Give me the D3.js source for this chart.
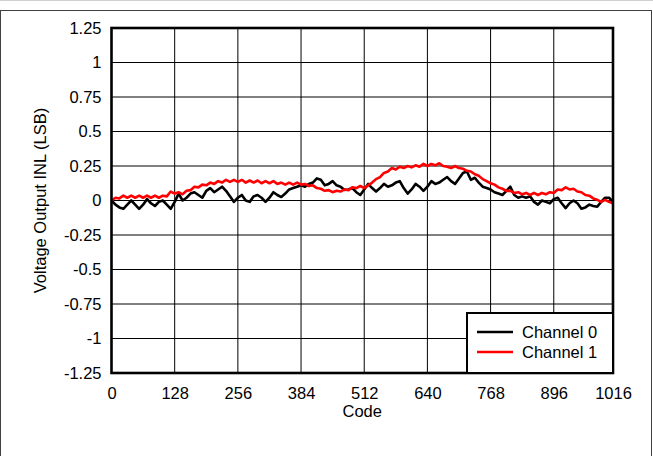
<!DOCTYPE html>
<html><head><meta charset="utf-8">
<script src="https://cdn.jsdelivr.net/npm/d3@7"></script>
<style>body{margin:0;background:#fff}svg{display:block}text{font-family:"Liberation Sans",Arial,sans-serif;}</style>
</head><body>
<svg id="c" width="653" height="456"></svg>
<script>
const seriesNames = ["Channel 0", "Channel 1"];
const seriesColors = ["#000000", "#ff0000"];
const xTicks = [0,128,256,384,512,640,768,896,1016];
const yTicks = [-1.25,-1,-0.75,-0.5,-0.25,0,0.25,0.5,0.75,1,1.25];
const yTickLabels = ["-1.25","-1","-0.75","-0.5","-0.25","0","0.25","0.5","0.75","1","1.25"];
const codes = d3.range(0, 1017, 8);
const channel0 = [
 0.00,-0.03,-0.05,-0.06,-0.03,0.00,-0.03,-0.06,-0.03,0.01,-0.02,-0.04,-0.01,0.00,-0.03,-0.06,
 -0.01,0.05,0.00,0.02,0.05,0.06,0.04,0.02,0.07,0.09,0.06,0.08,0.10,0.07,0.03,-0.01,
 0.02,0.04,0.00,-0.01,0.03,0.04,0.02,-0.01,0.02,0.06,0.04,0.025,0.05,0.08,0.09,0.10,
 0.11,0.10,0.12,0.13,0.16,0.15,0.11,0.12,0.14,0.11,0.10,0.077,0.08,0.09,0.06,0.04,
 0.08,0.12,0.09,0.065,0.09,0.12,0.10,0.11,0.13,0.14,0.09,0.05,0.08,0.12,0.10,0.07,
 0.10,0.14,0.12,0.13,0.15,0.17,0.14,0.12,0.16,0.20,0.21,0.15,0.165,0.13,0.10,0.09,
 0.08,0.06,0.05,0.04,0.07,0.10,0.04,0.02,0.03,0.02,0.03,-0.01,-0.03,0.00,-0.01,-0.02,
 0.01,0.02,-0.02,-0.055,-0.02,0.00,-0.02,-0.06,-0.05,-0.03,-0.04,-0.045,-0.01,0.02,0.02,-0.01
];
const channel1 = [
 0.00,0.02,0.015,0.035,0.02,0.035,0.02,0.035,0.02,0.035,0.02,0.035,0.02,0.035,0.03,0.065,
 0.05,0.06,0.045,0.07,0.075,0.10,0.095,0.115,0.11,0.13,0.12,0.14,0.13,0.15,0.135,0.15,
 0.135,0.15,0.13,0.145,0.13,0.145,0.125,0.14,0.125,0.14,0.12,0.13,0.115,0.13,0.115,0.13,
 0.115,0.12,0.105,0.11,0.09,0.085,0.07,0.075,0.06,0.07,0.065,0.08,0.075,0.095,0.09,0.105,
 0.09,0.11,0.13,0.155,0.17,0.2,0.21,0.235,0.225,0.245,0.235,0.25,0.24,0.255,0.245,0.265,
 0.25,0.265,0.255,0.27,0.25,0.245,0.235,0.25,0.235,0.23,0.215,0.21,0.19,0.18,0.155,0.14,
 0.125,0.115,0.095,0.085,0.07,0.07,0.055,0.06,0.045,0.055,0.04,0.055,0.04,0.055,0.045,0.06,
 0.055,0.08,0.075,0.095,0.08,0.085,0.065,0.06,0.04,0.035,0.015,0.005,-0.01,0.005,-0.01,-0.02
];
const allSeries = [channel0, channel1];

const svg = d3.select("#c");
const L = 111.5, R = 613, T = 28, B = 373;
const x = d3.scaleLinear().domain([0, 1016]).range([L, R]);
const y = d3.scaleLinear().domain([-1.25, 1.25]).range([B, T]);

// outer frame
svg.append("line").attr("x1",0).attr("x2",653).attr("y1",0.5).attr("y2",0.5).attr("stroke","#d0d0d0");
svg.append("rect").attr("x",0.5).attr("y",10.5).attr("width",651).attr("height",450)
  .attr("fill","none").attr("stroke","#404040").attr("stroke-width",1);

// grid
const g = svg.append("g");
g.selectAll(".vg").data(xTicks).join("line")
  .attr("x1", d => x(d)).attr("x2", d => x(d)).attr("y1", T).attr("y2", B)
  .attr("stroke", "#000").attr("stroke-width", 1);
g.selectAll(".hg").data(yTicks).join("line")
  .attr("x1", L).attr("x2", R).attr("y1", d => y(d)).attr("y2", d => y(d))
  .attr("stroke", "#000").attr("stroke-width", 1);

// axes labels via d3 axes (no tick lines)
const xAxis = d3.axisBottom(x).tickValues(xTicks).tickSize(0).tickPadding(14).tickFormat(d3.format("d"));
const xg = svg.append("g").attr("transform", `translate(0,${B})`).call(xAxis);
xg.select(".domain").remove();
xg.selectAll("text").attr("font-size", 16.5).attr("fill", "#000").attr("font-family", '"Liberation Sans",Arial,sans-serif');

const yAxis = d3.axisLeft(y).tickValues(yTicks).tickSize(0).tickPadding(10)
  .tickFormat((d, i) => yTickLabels[i]);
const yg = svg.append("g").attr("transform", `translate(${L},0)`).call(yAxis);
yg.select(".domain").remove();
yg.selectAll("text").attr("font-size", 16.5).attr("fill", "#000").attr("font-family", '"Liberation Sans",Arial,sans-serif');

// lines
const line = d3.line().x((d, i) => x(codes[i])).y(d => y(d));
const lg = svg.append("g");
allSeries.forEach((s, k) => {
  lg.append("path").datum(s).attr("d", line).attr("fill", "none")
    .attr("stroke", seriesColors[k]).attr("stroke-width", 2.6).attr("stroke-linejoin", "round");
});

// plot border
svg.append("rect").attr("x", L).attr("y", T).attr("width", R - L).attr("height", B - T)
  .attr("fill", "none").attr("stroke", "#000").attr("stroke-width", 2.6);

// axis titles
svg.append("text").attr("x", (L + R) / 2).attr("y", 417).attr("text-anchor", "middle")
  .attr("font-size", 16.5).text("Code");
svg.append("text").attr("transform", `translate(46,${(T + B) / 2}) rotate(-90)`)
  .attr("text-anchor", "middle").attr("font-size", 16.5).text("Voltage Output INL (LSB)");

// legend
const lgX = 467, lgY = 313;
svg.append("rect").attr("x", lgX).attr("y", lgY).attr("width", R - lgX).attr("height", B - lgY)
  .attr("fill", "#fff").attr("stroke", "#000").attr("stroke-width", 2);
seriesNames.forEach((n, k) => {
  const yy = lgY + 19 + k * 20;
  svg.append("line").attr("x1", lgX + 10).attr("x2", lgX + 46).attr("y1", yy).attr("y2", yy)
    .attr("stroke", seriesColors[k]).attr("stroke-width", 2.6);
  svg.append("text").attr("x", lgX + 55).attr("y", yy + 6).attr("font-size", 16.5).text(n);
});
</script>
</body></html>
